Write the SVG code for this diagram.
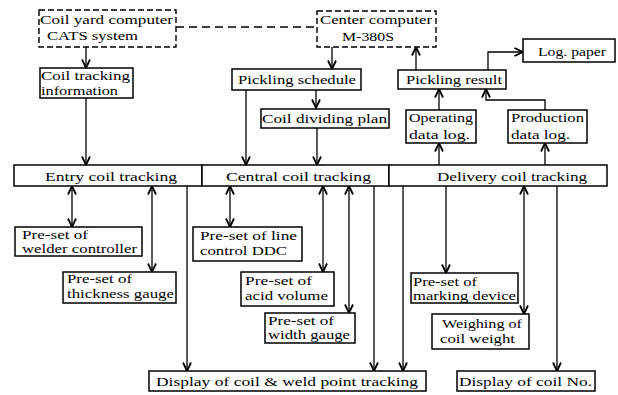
<svg xmlns="http://www.w3.org/2000/svg" width="618" height="395" viewBox="0 0 618 395">
<style>
.bx{fill:#fff;stroke:#000;stroke-width:1.5}
.dbx{fill:#fff;stroke:#000;stroke-width:1.4;stroke-dasharray:6 3}
.t{font-family:"Liberation Serif","Times New Roman",serif;font-size:13.5px;fill:#000}
.c{fill:none;stroke:#000;stroke-width:1.3}
</style>
<defs>
<marker id="ah" viewBox="0 0 10 10" refX="9.5" refY="5" markerWidth="10" markerHeight="10" markerUnits="userSpaceOnUse" orient="auto-start-reverse">
<path d="M1,1 L9.5,5 L1,9" fill="none" stroke="#000" stroke-width="1.8"/>
</marker>
</defs>
<rect width="618" height="395" fill="#fff"/>

<g id="connectors">
<path class="c" d="M176,27 H317" stroke-dasharray="8 5"/>
<path class="c" d="M86,47 V68" marker-end="url(#ah)"/>
<path class="c" d="M86,98 V165" marker-end="url(#ah)"/>
<path class="c" d="M332,47 V69" marker-end="url(#ah)"/>
<path class="c" d="M246,90 V165" marker-end="url(#ah)"/>
<path class="c" d="M316,90 V108" marker-end="url(#ah)"/>
<path class="c" d="M317,128 V165" marker-end="url(#ah)"/>
<path class="c" d="M416,70 V47" marker-end="url(#ah)"/>
<path class="c" d="M488,70 V52 H523" marker-end="url(#ah)"/>
<path class="c" d="M439,110 V89" marker-end="url(#ah)"/>
<path class="c" d="M545,110 V100 H486 V89" marker-end="url(#ah)"/>
<path class="c" d="M439,165 V143" marker-end="url(#ah)"/>
<path class="c" d="M545,165 V143" marker-end="url(#ah)"/>
<path class="c" d="M72,186 V227" marker-start="url(#ah)" marker-end="url(#ah)"/>
<path class="c" d="M152,186 V272" marker-start="url(#ah)" marker-end="url(#ah)"/>
<path class="c" d="M187,186 V371" marker-end="url(#ah)"/>
<path class="c" d="M230,186 V227" marker-start="url(#ah)" marker-end="url(#ah)"/>
<path class="c" d="M323,186 V272" marker-start="url(#ah)" marker-end="url(#ah)"/>
<path class="c" d="M349,186 V313" marker-start="url(#ah)" marker-end="url(#ah)"/>
<path class="c" d="M374,186 V371" marker-end="url(#ah)"/>
<path class="c" d="M403,186 V371" marker-end="url(#ah)"/>
<path class="c" d="M446,186 V273" marker-end="url(#ah)"/>
<path class="c" d="M524,186 V314" marker-start="url(#ah)" marker-end="url(#ah)"/>
<path class="c" d="M557,186 V371" marker-end="url(#ah)"/>
</g>

<g id="coil-yard-computer">
<rect class="dbx" x="39" y="10" width="137" height="37"/>
<text class="t" x="40" y="24" textLength="133" lengthAdjust="spacingAndGlyphs">Coil yard computer</text>
<text class="t" x="47" y="40" textLength="91" lengthAdjust="spacingAndGlyphs">CATS system</text>
</g>
<g id="center-computer">
<rect class="dbx" x="317" y="11" width="119" height="36"/>
<text class="t" x="320" y="24" textLength="112" lengthAdjust="spacingAndGlyphs">Center computer</text>
<text class="t" x="342" y="41" textLength="52" lengthAdjust="spacingAndGlyphs">M-380S</text>
</g>
<g id="coil-tracking-information">
<rect class="bx" x="40" y="68" width="93" height="30"/>
<text class="t" x="41" y="80" textLength="89" lengthAdjust="spacingAndGlyphs">Coil tracking</text>
<text class="t" x="41" y="95" textLength="77" lengthAdjust="spacingAndGlyphs">information</text>
</g>
<g id="pickling-schedule">
<rect class="bx" x="232" y="69" width="129" height="21"/>
<text class="t" x="238" y="84" textLength="118" lengthAdjust="spacingAndGlyphs">Pickling schedule</text>
</g>
<g id="coil-dividing-plan">
<rect class="bx" x="261" y="109" width="128" height="19"/>
<text class="t" x="262" y="123" textLength="125" lengthAdjust="spacingAndGlyphs">Coil dividing plan</text>
</g>
<g id="pickling-result">
<rect class="bx" x="398" y="70" width="108" height="19"/>
<text class="t" x="406" y="84" textLength="96" lengthAdjust="spacingAndGlyphs">Pickling result</text>
</g>
<g id="log-paper">
<rect class="bx" x="523" y="39" width="92" height="23"/>
<text class="t" x="538" y="56" textLength="68" lengthAdjust="spacingAndGlyphs">Log. paper</text>
</g>
<g id="operating-data-log">
<rect class="bx" x="406" y="110" width="70" height="33"/>
<text class="t" x="409" y="122" textLength="64" lengthAdjust="spacingAndGlyphs">Operating</text>
<text class="t" x="409" y="139" textLength="61" lengthAdjust="spacingAndGlyphs">data log.</text>
</g>
<g id="production-data-log">
<rect class="bx" x="508" y="110" width="79" height="33"/>
<text class="t" x="511" y="122" textLength="73" lengthAdjust="spacingAndGlyphs">Production</text>
<text class="t" x="511" y="139" textLength="59" lengthAdjust="spacingAndGlyphs">data log.</text>
</g>

<g id="entry-coil-tracking">
<rect class="bx" x="14" y="165" width="188" height="21"/>
<text class="t" x="45" y="181" textLength="132" lengthAdjust="spacingAndGlyphs">Entry coil tracking</text>
</g>
<g id="central-coil-tracking">
<rect class="bx" x="202" y="165" width="187" height="21"/>
<text class="t" x="226" y="181" textLength="145" lengthAdjust="spacingAndGlyphs">Central coil tracking</text>
</g>
<g id="delivery-coil-tracking">
<rect class="bx" x="389" y="165" width="218" height="21"/>
<text class="t" x="437" y="181" textLength="150" lengthAdjust="spacingAndGlyphs">Delivery coil tracking</text>
</g>

<g id="welder-controller">
<rect class="bx" x="15" y="227" width="127" height="29"/>
<text class="t" x="22" y="239" textLength="66" lengthAdjust="spacingAndGlyphs">Pre-set of</text>
<text class="t" x="22" y="253" textLength="115" lengthAdjust="spacingAndGlyphs">welder controller</text>
</g>
<g id="thickness-gauge">
<rect class="bx" x="63" y="272" width="113" height="31"/>
<text class="t" x="67" y="283" textLength="65" lengthAdjust="spacingAndGlyphs">Pre-set of</text>
<text class="t" x="67" y="298" textLength="107" lengthAdjust="spacingAndGlyphs">thickness gauge</text>
</g>
<g id="line-control-ddc">
<rect class="bx" x="193" y="227" width="109" height="34"/>
<text class="t" x="200" y="240" textLength="97" lengthAdjust="spacingAndGlyphs">Pre-set of line</text>
<text class="t" x="200" y="255" textLength="87" lengthAdjust="spacingAndGlyphs">control DDC</text>
</g>
<g id="acid-volume">
<rect class="bx" x="241" y="272" width="93" height="34"/>
<text class="t" x="245" y="285" textLength="67" lengthAdjust="spacingAndGlyphs">Pre-set of</text>
<text class="t" x="245" y="300" textLength="83" lengthAdjust="spacingAndGlyphs">acid volume</text>
</g>
<g id="width-gauge">
<rect class="bx" x="265" y="313" width="90" height="30"/>
<text class="t" x="268" y="325" textLength="66" lengthAdjust="spacingAndGlyphs">Pre-set of</text>
<text class="t" x="268" y="339" textLength="82" lengthAdjust="spacingAndGlyphs">width gauge</text>
</g>
<g id="marking-device">
<rect class="bx" x="411" y="273" width="107" height="30"/>
<text class="t" x="413" y="286" textLength="64" lengthAdjust="spacingAndGlyphs">Pre-set of</text>
<text class="t" x="413" y="300" textLength="103" lengthAdjust="spacingAndGlyphs">marking device</text>
</g>
<g id="coil-weight">
<rect class="bx" x="432" y="314" width="97" height="35"/>
<text class="t" x="442" y="328" textLength="80" lengthAdjust="spacingAndGlyphs">Weighing of</text>
<text class="t" x="440" y="343" textLength="75" lengthAdjust="spacingAndGlyphs">coil weight</text>
</g>
<g id="display-weld-tracking">
<rect class="bx" x="149" y="371" width="277" height="20"/>
<text class="t" x="156" y="386" textLength="262" lengthAdjust="spacingAndGlyphs">Display of coil &amp; weld point tracking</text>
</g>
<g id="display-coil-no">
<rect class="bx" x="457" y="371" width="138" height="20"/>
<text class="t" x="459" y="386" textLength="133" lengthAdjust="spacingAndGlyphs">Display of coil No.</text>
</g>
</svg>
